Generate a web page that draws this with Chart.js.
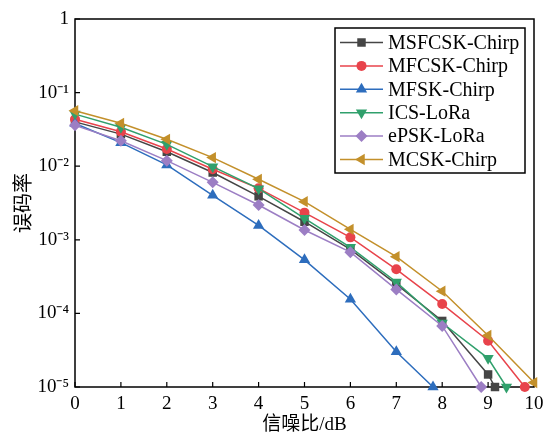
<!DOCTYPE html>
<html>
<head>
<meta charset="utf-8">
<script src="https://cdn.jsdelivr.net/npm/chart.js@4.4.1/dist/chart.umd.min.js"></script>
<style>
  html, body { margin: 0; padding: 0; background: #fff; }
  #wrap { width: 552px; height: 436px; position: relative; }
</style>
</head>
<body>
<div id="wrap"><canvas id="c" width="552" height="436"></canvas></div>
<script>
// ---- data ----
const seriesNames = ['MSFCSK-Chirp', 'MFCSK-Chirp', 'MFSK-Chirp', 'ICS-LoRa', 'ePSK-LoRa', 'MCSK-Chirp'];
const xTickLabels = ['0', '1', '2', '3', '4', '5', '6', '7', '8', '9', '10'];
const yTickValues = [1e-5, 1e-4, 1e-3, 1e-2, 1e-1, 1];
const yTickLabels = ['10\u207B\u2075', '10\u207B\u2074', '10\u207B\u00B3', '10\u207B\u00B2', '10\u207B\u00B9', '1'];

const msfcskX = [0, 1, 2, 3, 4, 5, 6, 7, 8, 9, 9.15];
const msfcskY = [0.040, 0.0273, 0.0157, 0.0082, 0.0039, 0.00176, 0.00074, 0.00025, 0.000079, 0.0000148, 0.00001];

const mfcskX = [0, 1, 2, 3, 4, 5, 6, 7, 8, 9, 9.8];
const mfcskY = [0.0434, 0.0294, 0.0171, 0.0091, 0.0050, 0.00234, 0.00108, 0.000397, 0.000134, 0.0000426, 0.00001];

const mfskX = [0, 1, 2, 3, 4, 5, 6, 7, 7.8];
const mfskY = [0.038, 0.0209, 0.0104, 0.00402, 0.00157, 0.000534, 0.000156, 0.0000302, 0.00001];

const icsX = [0, 1, 2, 3, 4, 5, 6, 7, 8, 9, 9.4];
const icsY = [0.051, 0.0338, 0.0198, 0.00986, 0.00495, 0.00196, 0.00079, 0.000267, 0.000074, 0.0000245, 0.00001];

const epskX = [0, 1, 2, 3, 4, 5, 6, 7, 8, 8.85];
const epskY = [0.0359, 0.0222, 0.0119, 0.00604, 0.00297, 0.00136, 0.00068, 0.000212, 0.0000676, 0.00001];

const mcskX = [0, 1, 2, 3, 4, 5, 6, 7, 8, 9, 10];
const mcskY = [0.0568, 0.0383, 0.0232, 0.0131, 0.00664, 0.0033, 0.00139, 0.00059, 0.0002, 0.0000501, 0.0000115];

// ---- styles ----
const colors = ['#454545', '#e8434b', '#2d6dbd', '#30a06c', '#9c7ec4', '#c3902b'];
const styles = [
  { pointStyle: 'rect', radius: 6, rotation: 0 },
  { pointStyle: 'circle', radius: 5, rotation: 0 },
  { pointStyle: 'triangle', radius: 6.5, rotation: 0 },
  { pointStyle: 'triangle', radius: 6.5, rotation: 180 },
  { pointStyle: 'rectRot', radius: 6, rotation: 0 },
  { pointStyle: 'triangle', radius: 6.5, rotation: 270 }
];
const xsAll = [msfcskX, mfcskX, mfskX, icsX, epskX, mcskX];
const ysAll = [msfcskY, mfcskY, mfskY, icsY, epskY, mcskY];

const serif = '"Liberation Serif", "Times New Roman", "Noto Sans CJK SC", serif';

const datasets = seriesNames.map((name, i) => ({
  label: name,
  data: xsAll[i].map((x, k) => ({ x: x, y: ysAll[i][k] })),
  borderColor: colors[i],
  backgroundColor: colors[i],
  borderWidth: 1.5,
  pointStyle: styles[i].pointStyle,
  pointRadius: styles[i].radius,
  pointRotation: styles[i].rotation,
  pointBorderWidth: 0,
  pointBackgroundColor: colors[i],
  pointBorderColor: colors[i],
  tension: 0,
  fill: false,
  clip: false,
  order: seriesNames.length - i
}));

const framePlugin = {
  id: 'frame',
  beforeDatasetsDraw(chart) {
    const { ctx, chartArea: a, scales } = chart;
    ctx.save();
    ctx.strokeStyle = '#000';
    ctx.lineWidth = 1.5;
    ctx.strokeRect(a.left, a.top, a.right - a.left, a.bottom - a.top);
    ctx.lineWidth = 1.2;
    ctx.beginPath();
    scales.x.ticks.forEach(t => {
      const px = scales.x.getPixelForValue(t.value);
      ctx.moveTo(px, a.bottom);
      ctx.lineTo(px, a.bottom - 5);
    });
    scales.y.ticks.forEach(t => {
      const py = scales.y.getPixelForValue(t.value);
      ctx.moveTo(a.left, py);
      ctx.lineTo(a.left + 5, py);
    });
    ctx.stroke();
    ctx.restore();
  }
};

const legendPlugin = {
  id: 'customLegend',
  afterDraw(chart) {
    const ctx = chart.ctx;
    const bx = 335, by = 28, bw = 190, bh = 145;
    ctx.save();
    ctx.fillStyle = '#fff';
    ctx.fillRect(bx, by, bw, bh);
    ctx.strokeStyle = '#000';
    ctx.lineWidth = 1.5;
    ctx.strokeRect(bx, by, bw, bh);
    ctx.font = '20px ' + serif;
    ctx.textBaseline = 'middle';
    ctx.textAlign = 'left';
    seriesNames.forEach((name, i) => {
      const y = 42.5 + i * 23.4;
      ctx.strokeStyle = colors[i];
      ctx.lineWidth = 1.5;
      ctx.beginPath();
      ctx.moveTo(340, y);
      ctx.lineTo(383, y);
      ctx.stroke();
      ctx.fillStyle = colors[i];
      ctx.strokeStyle = colors[i];
      Chart.helpers.drawPoint(ctx, {
        pointStyle: styles[i].pointStyle,
        radius: styles[i].radius,
        rotation: styles[i].rotation,
        borderWidth: 0
      }, 361.5, y);
      ctx.fillStyle = '#000';
      ctx.fillText(name, 388, y + 1);
    });
    ctx.restore();
  }
};

new Chart(document.getElementById('c'), {
  type: 'line',
  data: { datasets: datasets },
  options: {
    responsive: false,
    animation: false,
    layout: { padding: { left: 0, right: 18, top: 19, bottom: 0 } },
    plugins: { legend: { display: false }, tooltip: { enabled: false } },
    scales: {
      x: {
        type: 'linear',
        min: 0,
        max: 10,
        afterBuildTicks(scale) {
          scale.ticks = xTickLabels.map(v => ({ value: Number(v) }));
        },
        afterFit(scale) { scale.height = 49; },
        grid: { display: false, drawTicks: false },
        border: { display: false },
        ticks: {
          color: '#000',
          padding: 6,
          maxRotation: 0,
          autoSkip: false,
          font: { family: serif, size: 19 },
          callback: (v, i) => xTickLabels[i]
        },
        title: {
          display: true,
          text: '信噪比/dB',
          color: '#000',
          font: { family: serif, size: 19 },
          padding: { top: 0, bottom: 0 }
        }
      },
      y: {
        type: 'logarithmic',
        min: 1e-5,
        max: 1,
        afterBuildTicks(scale) {
          scale.ticks = yTickValues.map(v => ({ value: v }));
        },
        afterFit(scale) { scale.width = 75; },
        grid: { display: false, drawTicks: false },
        border: { display: false },
        ticks: {
          color: '#000',
          padding: 6,
          autoSkip: false,
          font: { family: serif, size: 19 },
          callback: (v, i) => yTickLabels[i]
        },
        title: {
          display: true,
          text: '误码率',
          color: '#000',
          font: { family: serif, size: 20 },
          padding: { top: 13, bottom: 0 }
        }
      }
    }
  },
  plugins: [framePlugin, legendPlugin]
});
</script>
</body>
</html>
